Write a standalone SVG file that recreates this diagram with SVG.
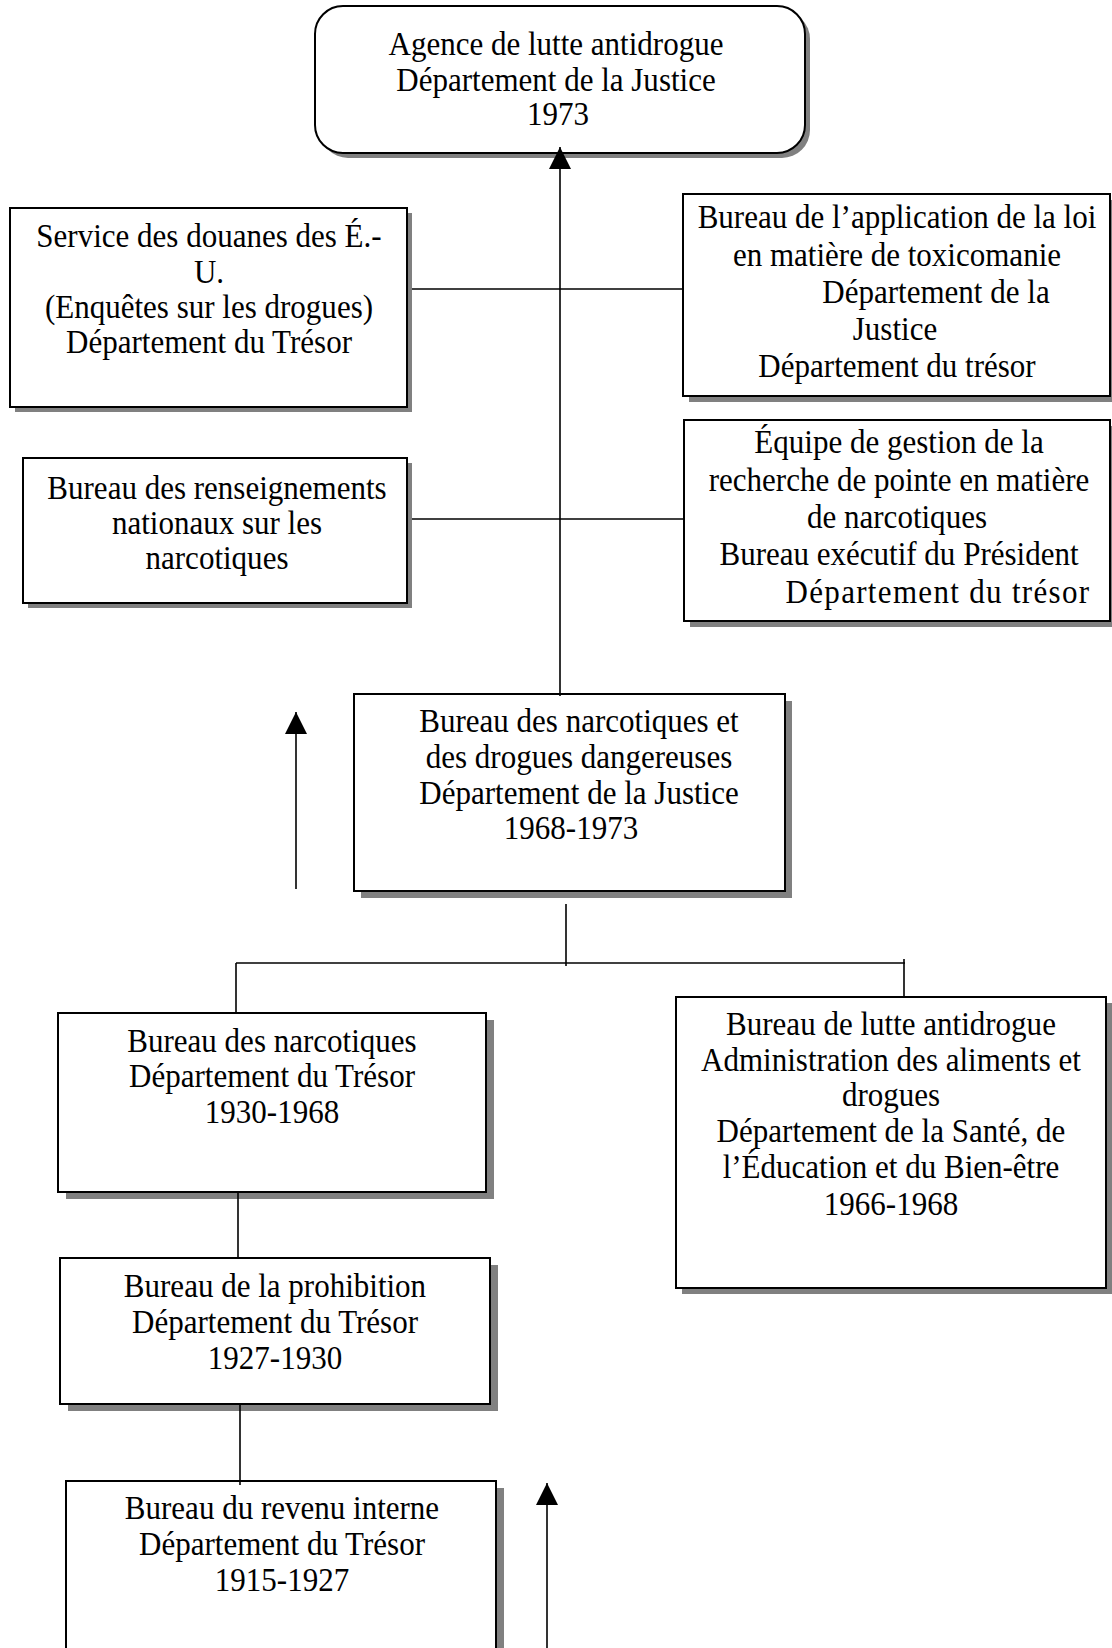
<svg xmlns="http://www.w3.org/2000/svg" width="1112" height="1648" viewBox="0 0 1112 1648">
<style>
.box{fill:#fff;stroke:#000;stroke-width:2}
.sh{fill:#808080}
.ln{stroke:#000;stroke-width:1.6;fill:none}
text{font-family:"Liberation Serif","Times New Roman",serif;font-size:33px;fill:#000;text-anchor:middle;transform-box:fill-box;transform-origin:center;transform:scaleX(0.94)}
</style>
<defs>
<marker id="arr" markerUnits="userSpaceOnUse" markerWidth="22" markerHeight="22" viewBox="0 0 21 21" refX="21" refY="10.5" orient="auto">
<path d="M0,0 L21,10.5 L0,21 z" fill="#000"/>
</marker>
</defs>
<rect width="1112" height="1648" fill="#fff"/>
<g id="agence">
<rect class="sh" x="320" y="11" width="490" height="147" rx="28"/>
<rect class="box" x="315" y="6" width="490" height="147" rx="28"/>
<text x="556" y="55">Agence de lutte antidrogue</text>
<text x="556" y="91">Département de la Justice</text>
<text x="558" y="125">1973</text>
</g>
<g id="douanes">
<rect class="sh" x="15" y="213" width="397" height="199"/>
<rect class="box" x="10" y="208" width="397" height="199"/>
<text x="209" y="247">Service des douanes des É.-</text>
<text x="209" y="283">U.</text>
<text x="209" y="318">(Enquêtes sur les drogues)</text>
<text x="209" y="353">Département du Trésor</text>
</g>
<g id="application">
<rect class="sh" x="689" y="200" width="427" height="202"/>
<rect class="box" x="683" y="194" width="427" height="202"/>
<text x="897" y="228">Bureau de l’application de la loi</text>
<text x="897" y="266">en matière de toxicomanie</text>
<text x="936" y="303">Département de la</text>
<text x="895" y="340">Justice</text>
<text x="897" y="377">Département du trésor</text>
</g>
<g id="renseignements">
<rect class="sh" x="28" y="463" width="384" height="145"/>
<rect class="box" x="23" y="458" width="384" height="145"/>
<text x="217" y="499">Bureau des renseignements</text>
<text x="217" y="534">nationaux sur les</text>
<text x="217" y="569">narcotiques</text>
</g>
<g id="equipe">
<rect class="sh" x="690" y="426" width="426" height="201"/>
<rect class="box" x="684" y="420" width="426" height="201"/>
<text x="899" y="453">Équipe de gestion de la</text>
<text x="899" y="491">recherche de pointe en matière</text>
<text x="897" y="528">de narcotiques</text>
<text x="899" y="565">Bureau exécutif du Président</text>
<text x="938" y="603" letter-spacing="1.4">Département du trésor</text>
</g>
<g id="bndd">
<rect class="sh" x="361" y="701" width="431" height="197"/>
<rect class="box" x="354" y="694" width="431" height="197"/>
<text x="579" y="732">Bureau des narcotiques et</text>
<text x="579" y="768">des drogues dangereuses</text>
<text x="579" y="804">Département de la Justice</text>
<text x="571" y="839">1968-1973</text>
</g>
<g id="narcotiques">
<rect class="sh" x="66" y="1020" width="428" height="179"/>
<rect class="box" x="58" y="1013" width="428" height="179"/>
<text x="272" y="1052">Bureau des narcotiques</text>
<text x="272" y="1087">Département du Trésor</text>
<text x="272" y="1123">1930-1968</text>
</g>
<g id="lutte">
<rect class="sh" x="682" y="1003" width="430" height="291"/>
<rect class="box" x="676" y="997" width="430" height="291"/>
<text x="891" y="1035">Bureau de lutte antidrogue</text>
<text x="891" y="1071">Administration des aliments et</text>
<text x="891" y="1106">drogues</text>
<text x="891" y="1142">Département de la Santé, de</text>
<text x="891" y="1178">l’Éducation et du Bien-être</text>
<text x="891" y="1215">1966-1968</text>
</g>
<g id="prohibition">
<rect class="sh" x="68" y="1265" width="430" height="146"/>
<rect class="box" x="60" y="1258" width="430" height="146"/>
<text x="275" y="1297">Bureau de la prohibition</text>
<text x="275" y="1333">Département du Trésor</text>
<text x="275" y="1369">1927-1930</text>
</g>
<g id="revenu">
<rect class="sh" x="74" y="1488" width="430" height="220"/>
<rect class="box" x="66" y="1481" width="430" height="220"/>
<text x="282" y="1519">Bureau du revenu interne</text>
<text x="282" y="1555">Département du Trésor</text>
<text x="282" y="1591">1915-1927</text>
</g>
<g id="connectors">
<line class="ln" x1="560" y1="696" x2="560" y2="147" marker-end="url(#arr)"/>
<line class="ln" x1="412" y1="289" x2="683" y2="289"/>
<line class="ln" x1="412" y1="519" x2="684" y2="519"/>
<line class="ln" x1="296" y1="889" x2="296" y2="712" marker-end="url(#arr)"/>
<line class="ln" x1="566" y1="904" x2="566" y2="966"/>
<line class="ln" x1="236" y1="963" x2="905" y2="963"/>
<line class="ln" x1="236" y1="963" x2="236" y2="1013"/>
<line class="ln" x1="904" y1="959" x2="904" y2="997"/>
<line class="ln" x1="238" y1="1192" x2="238" y2="1258"/>
<line class="ln" x1="240" y1="1404" x2="240" y2="1485"/>
<line class="ln" x1="547" y1="1648" x2="547" y2="1483" marker-end="url(#arr)"/>
</g>
</svg>
